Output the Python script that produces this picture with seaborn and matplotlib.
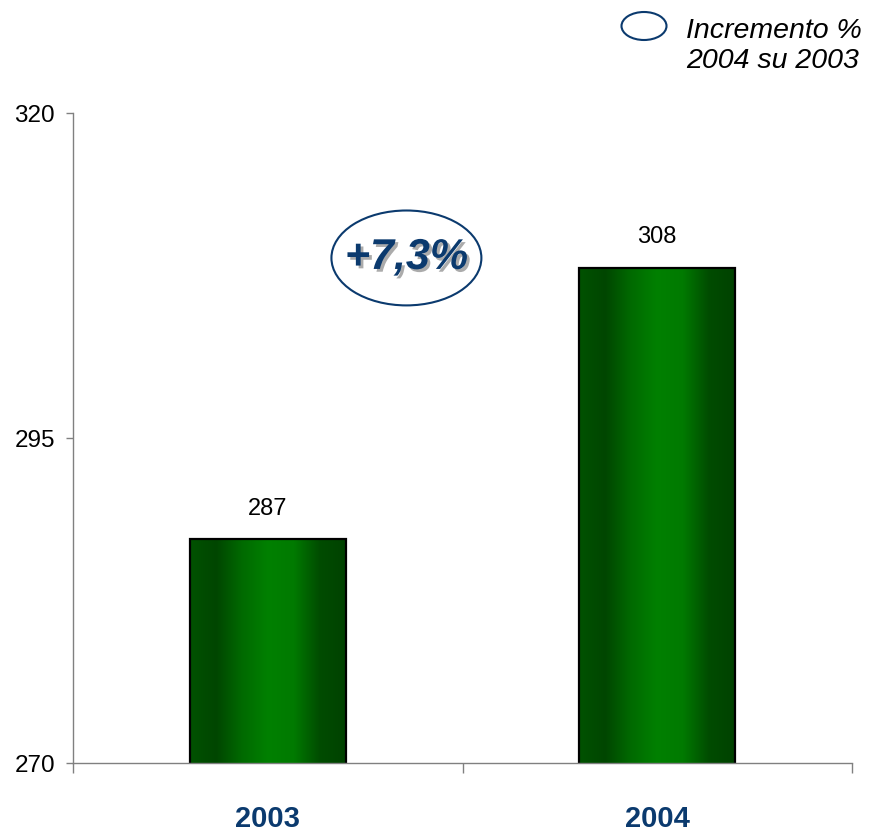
import numpy as np
import pandas as pd
import seaborn as sns
import matplotlib.pyplot as plt
from matplotlib.patches import Ellipse
from matplotlib.colors import LinearSegmentedColormap
import matplotlib.patheffects as pe

# dati
anni = ["2003", "2004"]
valori = [287.2, 308.1]
etichette = ["287", "308"]
incremento = "+7,3%"
legenda_testo = "Incremento %\n2004 su 2003"
y_ticks = [270, 295, 320]

navy = "#0b3a6e"

sns.set_style("white")
plt.rcParams["font.family"] = ["Liberation Sans", "DejaVu Sans"]
plt.rcParams["text.color"] = "black"
plt.rcParams["ytick.labelcolor"] = "black"

df = pd.DataFrame({"anno": anni, "valore": valori})

fig = plt.figure(figsize=(8.7, 8.34), dpi=100)
ax = fig.add_axes([73 / 870, 71 / 834, 779 / 870, 650 / 834])

sns.barplot(data=df, x="anno", y="valore", ax=ax, width=0.4,
            color="#007000", edgecolor="black", linewidth=1.6)

ymin, ymax = 270, 320

# gradiente verde sulle barre
cmap = LinearSegmentedColormap.from_list(
    "verde", ["#005200", "#004600", "#006a00", "#008000", "#007a00", "#004c00", "#004200"])
grad = np.linspace(0, 1, 256).reshape(1, -1)
for p in ax.patches:
    x0, w = p.get_x(), p.get_width()
    top = p.get_y() + p.get_height()
    im = ax.imshow(grad, cmap=cmap, extent=[x0, x0 + w, ymin, top],
                   aspect="auto", zorder=p.get_zorder() + 0.1, origin="lower")
    p.set_facecolor("none")
    p.set_zorder(p.get_zorder() + 0.2)

ax.bar_label(ax.containers[0], labels=etichette, padding=14, fontsize=17,
             color="black")

ax.set_xlim(-0.5, 1.5)
ax.set_ylim(ymin, ymax)
ax.set_yticks(y_ticks)
ax.set_xlabel("")
ax.set_ylabel("")

for s in ["top", "right"]:
    ax.spines[s].set_visible(False)
for s in ["left", "bottom"]:
    ax.spines[s].set_color("#808080")
    ax.spines[s].set_linewidth(1.0)

ax.tick_params(axis="y", direction="out", length=5, width=1, color="#808080",
               pad=8, labelsize=17.5, left=True, labelcolor="black")
ax.tick_params(axis="x", which="major", length=0, pad=30, labelsize=21,
               labelcolor=navy)
for t in ax.get_xticklabels():
    t.set_fontweight("bold")
ax.set_xticks([-0.5, 0.5, 1.5], minor=True)
ax.tick_params(axis="x", which="minor", direction="out", length=7, width=1,
               color="#808080", bottom=True)

# ellisse con incremento
ell = Ellipse((0.356, 308.85), 0.385, 7.3, facecolor="white",
              edgecolor=navy, linewidth=1.5, zorder=5)
ax.add_patch(ell)
ax.text(0.356, 308.85, incremento, ha="center", va="center", fontsize=31,
        fontweight="bold", fontstyle="italic", color=navy, zorder=6,
        path_effects=[pe.withSimplePatchShadow(offset=(2, -2),
                                               shadow_rgbFace="#888888", alpha=0.7)])

# legenda
leg = Ellipse((644 / 870, 1 - 26 / 834), 45 / 870, 28 / 834,
              transform=fig.transFigure, facecolor="white", edgecolor=navy,
              linewidth=1.5)
fig.add_artist(leg)
fig.text(686 / 870, 1 - 18 / 834, legenda_testo, ha="left", va="top",
         fontsize=20.5, fontstyle="italic", linespacing=1.2, color="black")

fig.savefig("out.png", dpi=100)
